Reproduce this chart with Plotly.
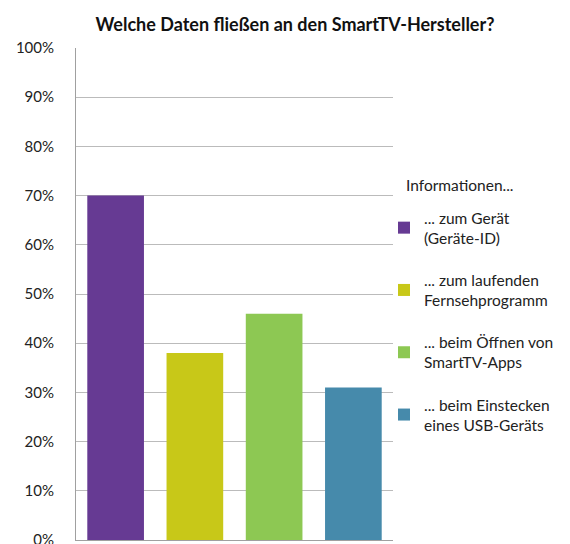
import plotly.graph_objects as go

title = "Welche Daten fließen an den SmartTV-Hersteller?"
legend_title = "Informationen..."
categories = ["... zum Gerät<br>(Geräte-ID)",
              "... zum laufenden<br>Fernsehprogramm",
              "... beim Öffnen von<br>SmartTV-Apps",
              "... beim Einstecken<br>eines USB-Geräts"]
values = [70, 38, 46, 31]
colors = ["#663A93", "#C8C818", "#8DC853", "#468AAB"]
y_ticks = list(range(0, 101, 10))
y_ticktext = [f"{t}%" for t in y_ticks]

FONT = "Lato, Noto Sans, sans-serif"
W, H = 562, 536          # page body has an 8px margin
L, T = 68, 40
PW, PH = 317, 492

def px(x):   # figure-x pixel -> paper
    return (x - L) / PW

def py(y):   # figure-y pixel -> paper
    return (T + PH - y) / PH

fig = go.Figure()
for i, (c, v, col) in enumerate(zip(categories, values, colors)):
    fig.add_trace(go.Bar(x=[i], y=[v], name=c, marker_color=col,
                         marker_line_width=0, width=0.715,
                         legendgroup=f"g{i}"))

fig.update_layout(
    width=W, height=H,
    margin=dict(l=L, r=W - L - PW, t=T, b=H - T - PH, autoexpand=False),
    paper_bgcolor="white", plot_bgcolor="white",
    barmode="overlay",
    font=dict(family=FONT, size=15, color="#222"),
    title=dict(text="<b>" + title + "</b>", x=287 / W, xanchor="center",
               y=1 - 17 / H, yanchor="middle",
               font=dict(size=18, color="#111")),
    showlegend=True,
    legend=dict(x=px(376), xanchor="left", y=py(193), yanchor="top",
                font=dict(size=15.5, color="#222"), traceorder="grouped",
                tracegroupgap=19, itemclick=False, bgcolor="rgba(0,0,0,0)"),
    annotations=[dict(text=legend_title, x=px(396), xref="paper", xanchor="left",
                      y=py(177), yref="paper", yanchor="middle",
                      showarrow=False, font=dict(size=15.5, color="#222"))],
)
fig.update_xaxes(range=[-0.5, 3.5], showticklabels=False, showgrid=False,
                 showline=True, linecolor="#A0A0A0", linewidth=1, zeroline=False,
                 fixedrange=True)
fig.update_yaxes(range=[0, 100], tickmode="array", tickvals=y_ticks, ticktext=y_ticktext,
                 showgrid=True, gridcolor="#BBBBBB", gridwidth=1,
                 showline=True, linecolor="#A0A0A0", linewidth=1, zeroline=False,
                 ticks="", ticklabelstandoff=18, ticklabeloverflow="allow",
                 fixedrange=True)

fig.write_html("out.html")
